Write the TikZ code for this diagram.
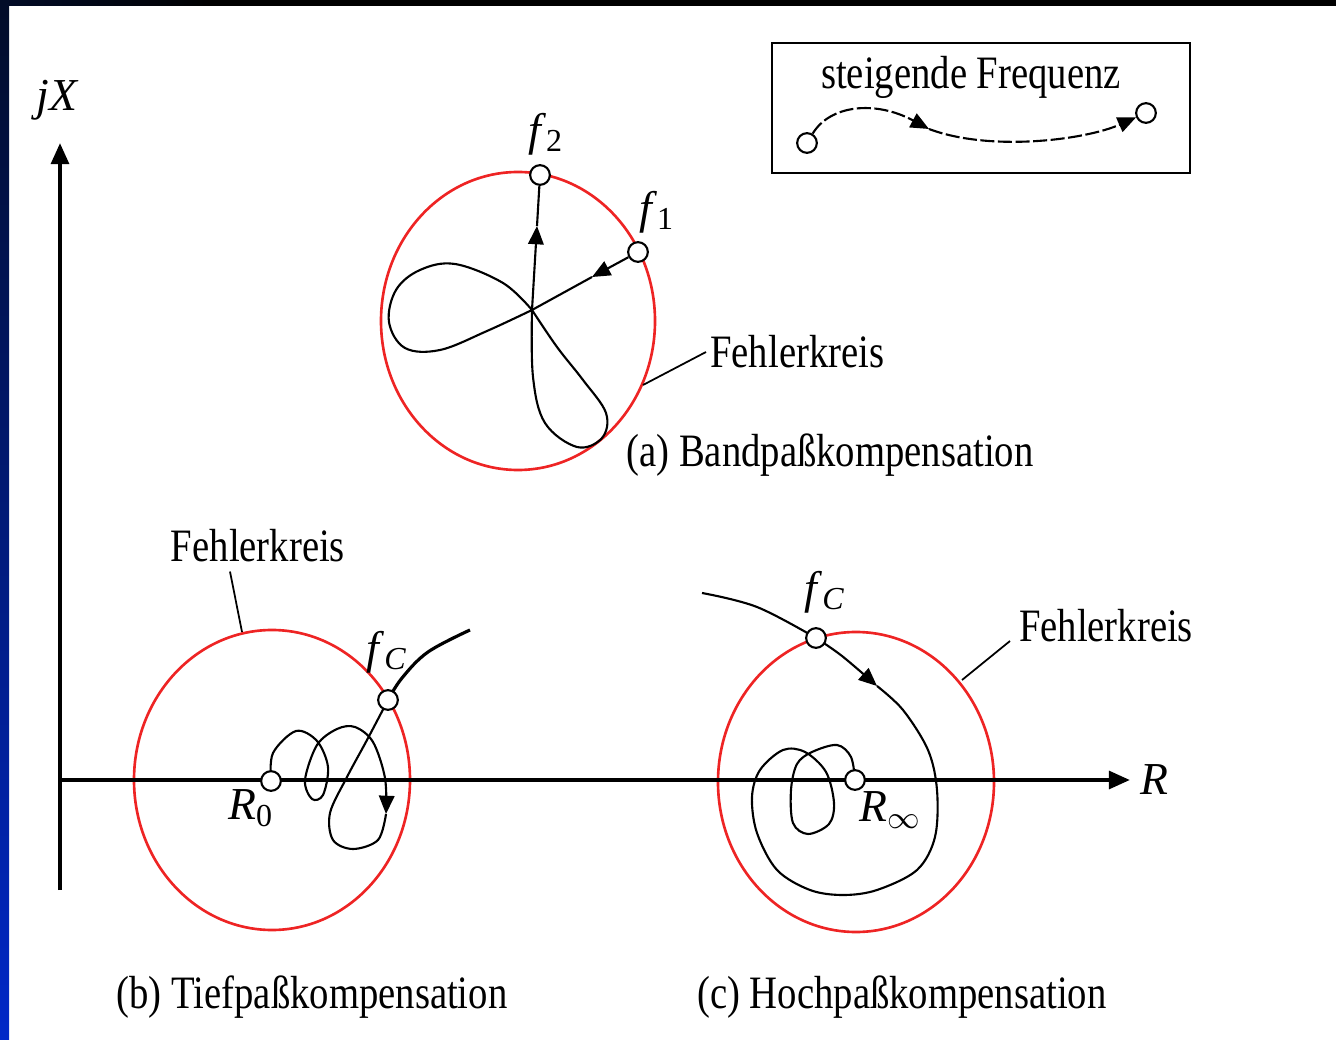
\documentclass[tikz,border=0pt]{standalone}
\usepackage{fontspec}
\setmainfont{Liberation Serif}
\usetikzlibrary{arrows.meta,backgrounds}

\definecolor{fkred}{RGB}{238,36,36}
\definecolor{navytop}{RGB}{2,12,40}
\definecolor{bluebot}{RGB}{0,40,200}

\newcommand{\tall}[1]{\scalebox{1}[1.2]{#1}}

\tikzset{
  axis/.style={line width=1.2pt},
  kreis/.style={draw=fkred, line width=0.75pt},
  ortskurve/.style={line width=0.6pt},
  pt/.style={circle, draw, fill=white, line width=0.6pt, inner sep=0pt, minimum size=5.6pt},
  lbl/.style={font=\fontsize{11}{13}\selectfont, inner sep=1pt},
  flbl/.style={font=\fontsize{13}{15}\selectfont, inner sep=1pt},
  lead/.style={line width=0.5pt},
  tip/.style={-{Triangle[length=5.2pt,width=4.4pt]}}
}

\begin{document}
\begin{tikzpicture}[x=0.01cm, y=-0.01cm]
  \useasboundingbox (0,0) rectangle (1336,1040);
  % frame strips
  \fill[black] (0,0) rectangle (1336,6);
  \shade[left color=navytop, right color=black] (0,0) rectangle (210,6);
  \shade[top color=navytop, bottom color=bluebot] (0,0) rectangle (9,1040);

  % axes
  \coordinate (o) at (60,780);
  \coordinate (ytop) at (60,143);
  \coordinate (ybot) at (60,890);
  \coordinate (xend) at (1130,780);
  \draw[axis, -{Triangle[length=6pt,width=5pt]}] (ybot) -- (ytop);
  \draw[axis, -{Triangle[length=6pt,width=5pt]}] (o) -- (xend);
  \node[flbl] (jx) at (58,100) {\textit{jX}};
  \node[flbl, anchor=west] (rlab) at (1136,780) {\textit{R}};

  % legend
  \draw[line width=0.7pt] (772,43) rectangle (1190,173);
  \node[lbl] (leg) at (971,77) {\tall{steigende Frequenz}};
  \node[pt] (ls) at (807,143) {};
  \node[pt] (le) at (1146,113) {};
  \coordinate (lm) at (929,129);
  \draw[ortskurve, dash pattern=on 4pt off 1pt, tip] (ls) .. controls (830,105) and (875,100) .. (lm);
  \draw[ortskurve, dash pattern=on 4pt off 1pt, tip] (lm) .. controls (990,152) and (1085,140) .. (le);

  % (a) Bandpass
  \node[pt] (f2) at (540,175) {};
  \node[pt] (f1) at (638,252) {};
  \node[flbl] (f2lab) at (546,134) {\textit{f}\textsubscript{2}};
  \node[flbl] (f1lab) at (657,212) {\textit{f}\textsubscript{1}};
  \coordinate (xa) at (532,310);
  \coordinate (am1) at (592,277);
  \coordinate (am2) at (537,226);
  \node[lbl, anchor=west] (fka) at (706,352) {\tall{Fehlerkreis}};
  \coordinate (fka0) at (643,385);
  \draw[lead] (fka0) -- (fka.west);
  \node[lbl] (capa) at (830,455) {\tall{(a) Bandpaßkompensation}};
  \begin{scope}[on background layer]
    \draw[kreis] (518,321) ellipse [x radius=137, y radius=149];
    \draw[ortskurve, tip] (f1) -- (am1);
    \draw[ortskurve] (am1) -- (xa);
    \draw[ortskurve] plot[smooth, tension=0.6] coordinates {(xa) (487,331) (440,350) (405,348) (389,322) (396,290) (420,270) (455,264) (503,283) (xa)};
    \draw[ortskurve] plot[smooth, tension=0.6] coordinates {(xa) (557,347) (583,380) (606,413) (602,438) (577,447) (545,423) (533,377) (xa)};
    \draw[ortskurve, tip] (xa) -- (am2);
    \draw[ortskurve] (am2) -- (f2);
  \end{scope}

  % (b) Tiefpass
  \node[pt] (r0) at (271,781) {};
  \node[pt] (fcb) at (388,700) {};
  \node[flbl] (r0lab) at (251,808) {\textit{R}\textsubscript{0}};
  \node[flbl] (fcblab) at (387,652) {\textit{f}\textsubscript{\textit{C}}};
  \node[lbl] (fkb) at (258,546) {\tall{Fehlerkreis}};
  \coordinate (fkb0) at (242,632);
  \draw[lead] (fkb.south) ++(-28,5) coordinate (fkb1) -- (fkb0);
  \coordinate (bm) at (386,814);
  \coordinate (bend) at (470,630);
  \node[lbl] (capb) at (312,997) {\tall{(b) Tiefpaßkompensation}};
  \begin{scope}[on background layer]
    \draw[kreis] (272,780) ellipse [x radius=138, y radius=150];
    \draw[ortskurve, tip] plot[smooth, tension=0.55] coordinates {(r0) (273,753) (296,731) (317,741) (328,767) (323,795) (312,799) (305,780) (317,745) (337,729) (355,727) (373,742) (385,778) (bm)};
    \draw[ortskurve] plot[smooth, tension=0.55] coordinates {(bm) (378,840) (353,849) (333,840) (330,813) (347,777) (367,740) (fcb)};
    \draw[line width=0.9pt] plot[smooth, tension=0.6] coordinates {(fcb) (402,678) (428,652) (bend)};
  \end{scope}

  % (c) Hochpass
  \node[pt] (rinf) at (855,780) {};
  \node[pt] (fcc) at (816,638) {};
  \node[flbl] (rinflab) at (891,810) {\textit{R}\textsubscript{$\infty$}};
  \node[flbl] (fcclab) at (825,592) {\textit{f}\textsubscript{\textit{C}}};
  \node[lbl] (fkc) at (1106,626) {\tall{Fehlerkreis}};
  \coordinate (fkc0) at (962,680);
  \draw[lead] (fkc0) -- (1010,641);
  \coordinate (cs) at (702,593);
  \coordinate (cm) at (877,686);
  \node[lbl] (capc) at (902,997) {\tall{(c) Hochpaßkompensation}};
  \begin{scope}[on background layer]
    \draw[kreis] (856,782) ellipse [x radius=138, y radius=150];
    \draw[ortskurve] plot[smooth, tension=0.6] coordinates {(cs) (757,607) (fcc)};
    \draw[ortskurve, tip] plot[smooth, tension=0.6] coordinates {(fcc) (842,656) (cm)};
    \draw[ortskurve] plot[smooth, tension=0.55] coordinates {(cm) (903,710) (928,750) (937,790) (935,837) (917,870) (877,890) (843,895) (810,890) (777,870) (757,833) (752,797) (760,770) (783,750) (805,752) (826,772) (834,803) (829,824) (808,834) (793,823) (791,790) (797,764) (812,752) (837,745) (851,757) (rinf)};
  \end{scope}
\end{tikzpicture}
\end{document}
